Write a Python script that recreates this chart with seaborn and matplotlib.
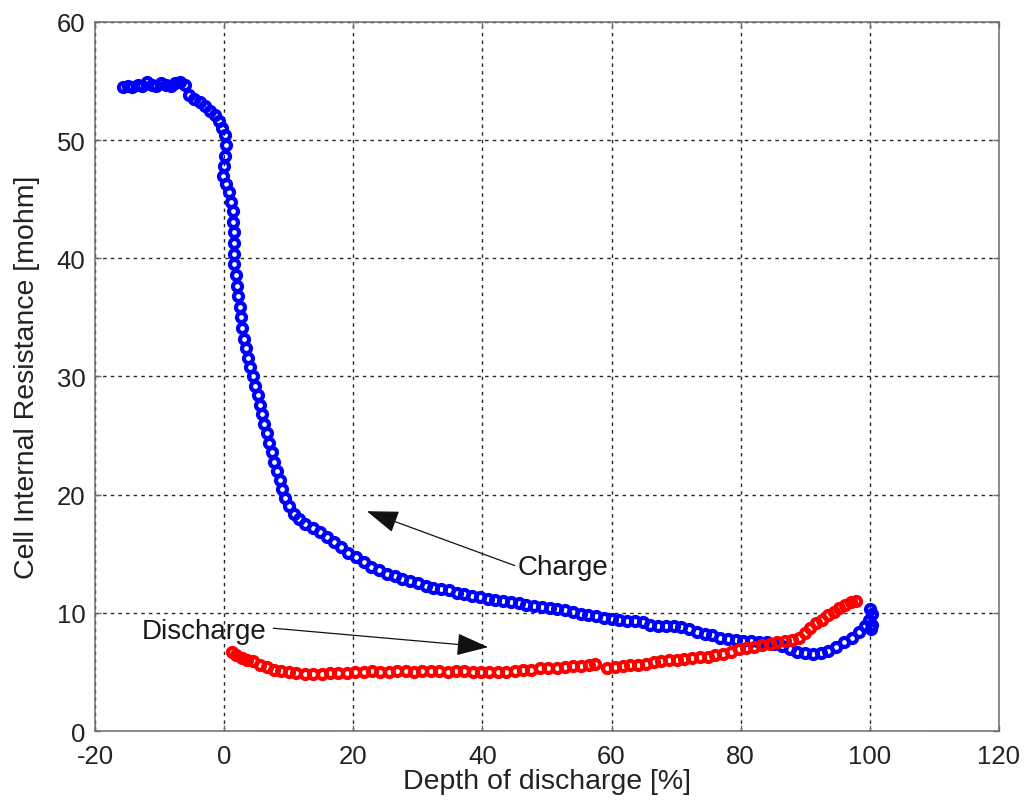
import matplotlib
matplotlib.use("Agg")
import matplotlib.pyplot as plt
import seaborn as sns
import pandas as pd

# Charge curve: depth of discharge [%] vs cell internal resistance [mohm]
charge_dod = [
    -15.6, -14.9, -14.2, -13.4, -12.7, -12.0, -11.2, -10.5, -9.8, -9.0, -8.3, -7.6, -6.8, -6.1,
    -5.4, -4.6, -3.8, -3.0, -2.2, -1.4, -0.8, -0.3, 0.1, 0.3, 0.2, 0.0, -0.1, 0.3, 0.7, 1.1,
    1.3, 1.4, 1.5, 1.6, 1.5, 1.6, 1.8, 2.0, 2.2, 2.4, 2.6, 2.8, 3.1, 3.4, 3.7, 4.0, 4.4, 4.8,
    5.2, 5.6, 5.9, 6.2, 6.6, 7.0, 7.4, 7.8, 8.2, 8.6, 9.0, 9.5, 10.1, 10.8, 11.6, 12.6, 13.7,
    14.8, 15.9, 17.0, 18.1, 19.2, 20.4, 21.6, 22.8, 24.0, 25.2, 26.4, 27.6, 28.8, 30.0, 31.2,
    32.4, 33.6, 34.8, 36.0, 37.2, 38.4, 39.6, 40.8, 42.0, 43.2, 44.4, 45.6, 46.8, 48.0, 49.2,
    50.4, 51.6, 52.8, 54.0, 55.2, 56.4, 57.6, 58.8, 60.0, 61.2, 62.4, 63.6, 64.8, 66.0, 67.2,
    68.4, 69.6, 70.8, 72.0, 73.2, 74.4, 75.6, 76.8, 78.0, 79.2, 80.4, 81.6, 82.8, 84.0, 85.2,
    86.4, 87.6, 88.8, 90.0, 91.2, 92.4, 93.6, 94.8, 96.0, 97.2, 98.3, 99.2, 99.9, 100.3, 100.0,
    100.4, 100.2,
]
charge_res = [
    54.5, 54.6, 54.5, 54.7, 54.6, 54.9, 54.7, 54.6, 54.8, 54.7, 54.6, 54.8, 54.9, 54.7,
    53.8, 53.5, 53.2, 52.9, 52.5, 52.1, 51.6, 51.0, 50.4, 49.6, 48.7, 47.8, 47.0, 46.3, 45.6, 44.8,
    44.0, 43.1, 42.2, 41.3, 40.4, 39.5, 38.6, 37.7, 36.8, 35.9, 35.0, 34.1, 33.2, 32.4, 31.6, 30.8,
    30.0, 29.2, 28.4, 27.6, 26.8, 26.0, 25.2, 24.4, 23.6, 22.8, 22.0, 21.2, 20.5, 19.7, 19.0, 18.4,
    17.9, 17.5, 17.2, 16.8, 16.4, 16.0, 15.6, 15.1, 14.7, 14.3, 13.9, 13.6, 13.3, 13.1, 12.9, 12.7,
    12.5, 12.3, 12.1, 12.0, 11.9, 11.7, 11.6, 11.4, 11.3, 11.2, 11.1, 11.0, 10.9, 10.8, 10.7, 10.6,
    10.5, 10.4, 10.3, 10.2, 10.1, 9.9, 9.8, 9.7, 9.6, 9.5, 9.4, 9.3, 9.3, 9.2, 9.0, 8.9, 8.9, 8.9,
    8.8, 8.6, 8.4, 8.2, 8.1, 7.9, 7.8, 7.7, 7.6, 7.6, 7.5, 7.5, 7.4, 7.2, 6.9, 6.7, 6.6, 6.5, 6.6,
    6.8, 7.1, 7.5, 7.9, 8.4, 8.9, 9.4, 9.9, 10.3, 9.0, 8.6,
]

# Discharge curve
discharge_dod = [
    1.2, 1.9, 2.7, 3.6, 4.5, 5.5, 6.6, 7.7, 8.8, 10.0, 11.2, 12.5, 13.8, 15.1, 16.4, 17.7, 19.0,
    20.3, 21.6, 22.9, 24.2, 25.5, 26.8, 28.1, 29.4, 30.7, 32.0, 33.3, 34.6, 35.9, 37.2, 38.5,
    39.8, 41.1, 42.4, 43.7, 45.0, 46.3, 47.6, 48.9, 50.2, 51.5, 52.8, 54.1, 55.3, 56.5, 57.4,
    59.3, 60.5, 61.7, 62.9, 64.1, 65.3, 66.5, 67.7, 68.9, 70.1, 71.3, 72.5, 73.7, 74.9, 76.1,
    77.3, 78.5, 79.7, 80.9, 82.1, 83.3, 84.5, 85.7, 86.9, 88.0, 89.0, 89.9, 90.8, 91.7, 92.6,
    93.5, 94.4, 95.3, 96.2, 97.1, 97.8,
]
discharge_res = [
    6.7, 6.4, 6.2, 6.0, 5.9, 5.6, 5.4, 5.2, 5.1, 5.0, 4.9, 4.8, 4.8, 4.8, 4.9, 4.9, 4.9,
    5.0, 5.0, 5.1, 5.0, 5.0, 5.1, 5.1, 5.0, 5.1, 5.1, 5.1, 5.0, 5.1, 5.1, 5.0,
    5.0, 5.0, 5.0, 5.0, 5.1, 5.2, 5.2, 5.3, 5.3, 5.3, 5.4, 5.5, 5.5, 5.6, 5.7,
    5.3, 5.4, 5.5, 5.6, 5.6, 5.7, 5.8, 5.9, 6.0, 6.0, 6.1, 6.2, 6.3, 6.3, 6.4,
    6.5, 6.7, 6.9, 7.0, 7.1, 7.3, 7.4, 7.5, 7.6, 7.7, 7.9, 8.3, 8.7, 9.1, 9.4,
    9.8, 10.1, 10.4, 10.7, 10.9, 11.0,
]

x_ticks = [-20, 0, 20, 40, 60, 80, 100, 120]
y_ticks = [0, 10, 20, 30, 40, 50, 60]

sns.set_theme(style="white")
plt.rcParams["font.family"] = ["Liberation Sans", "DejaVu Sans"]

charge = pd.DataFrame({"dod": charge_dod, "res": charge_res})
discharge = pd.DataFrame({"dod": discharge_dod, "res": discharge_res})

fig, ax = plt.subplots(figsize=(10.29, 8.12), dpi=100)
fig.subplots_adjust(left=0.0923, right=0.9708, bottom=0.0985, top=0.9717)

marker_kw = dict(linestyle="", marker="o", markersize=6.5, markerfacecolor="none",
                 markeredgewidth=3.0, sort=False, estimator=None, ax=ax)
sns.lineplot(data=charge, x="dod", y="res", color="#0000ff",
             markeredgecolor="#0000ff", **marker_kw)
sns.lineplot(data=discharge, x="dod", y="res", color="#ff0000",
             markeredgecolor="#ff0000", **marker_kw)

ax.set_xlim(-20, 120)
ax.set_ylim(0, 60)
ax.set_xticks(x_ticks)
ax.set_yticks(y_ticks)
ax.set_xticklabels([str(v) for v in x_ticks])
ax.set_yticklabels([str(v) for v in y_ticks])

ax.grid(True, color="#262626", linestyle=(0, (2.5, 3)), linewidth=1.0)
ax.set_axisbelow(True)
for sp in ax.spines.values():
    sp.set_color("#6e6e6e")
    sp.set_linewidth(1.1)
    sp.set_visible(True)
ax.tick_params(direction="in", length=4.5, width=1, colors="#6e6e6e",
               top=True, right=True, bottom=True, left=True,
               labelsize=18.5, labelcolor="#222222")
ax.tick_params(axis="y", pad=7)
ax.tick_params(axis="x", pad=9)

ax.set_xlabel("Depth of discharge [%]", fontsize=20.5, color="#222222", labelpad=0)
ax.set_ylabel("Cell Internal Resistance [mohm]", fontsize=20.5, color="#222222", labelpad=12)

# Curve labels with arrows
arrow_kw = dict(arrowstyle="-|>,head_length=1.0,head_width=0.35",
                mutation_scale=20, color="#111111", lw=0.9, shrinkA=0, shrinkB=0)
ax.text(45.4, 13.9, "Charge", fontsize=20, color="#1a1a1a", va="center", ha="left")
ax.annotate("", xy=(22.1, 18.6), xytext=(45.0, 14.0), arrowprops=arrow_kw)
ax.text(-12.7, 8.45, "Discharge", fontsize=20, color="#1a1a1a", va="center", ha="left")
ax.annotate("", xy=(40.9, 7.1), xytext=(7.6, 8.7), arrowprops=arrow_kw)

fig.savefig("out.png", dpi=100, facecolor="white")
